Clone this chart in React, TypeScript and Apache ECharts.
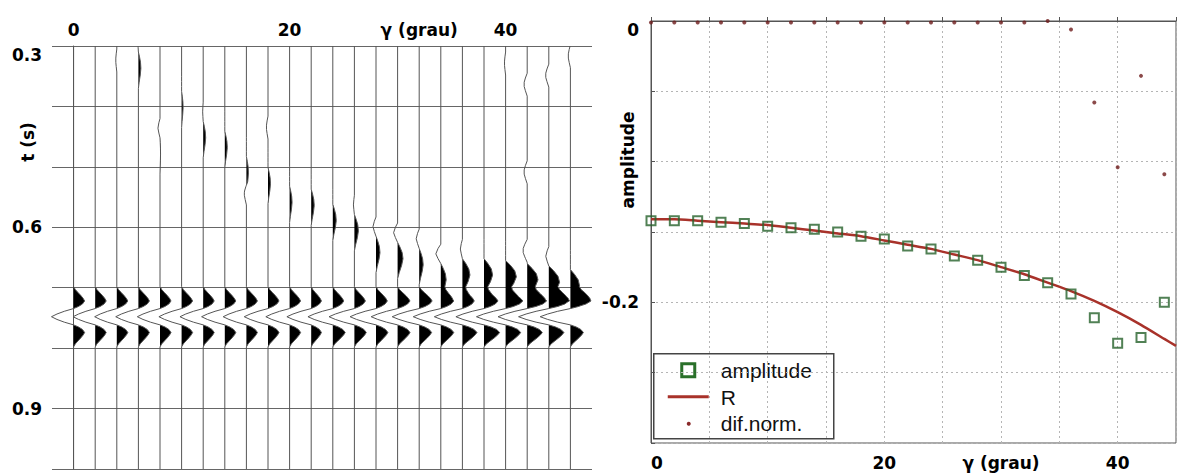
import React, { useEffect, useRef } from "react";
import * as echarts from "echarts";

// ---------------- Left panel: synthetic seismogram ----------------
const traceAngles = [0, 2, 4, 6, 8, 10, 12, 14, 16, 18, 20, 22, 24, 26, 28, 30, 32, 34, 36, 38, 40, 42, 44, 46];
const mainEventTime = 0.748;
// lobe amplitudes per trace, in degrees of deflection
const upperLobe = [1.02, 1.02, 1.02, 1.02, 1.02, 1.02, 1.02, 1.02, 1.02, 1.02, 1.02, 0.95, 1.02, 1.02, 1.05, 1.15, 1.2, 1.2, 1.1, 1.3, 1.6, 1.8, 1.85, 1.7];
const troughLobe = [2.05, 2.05, 2.05, 2.1, 2.1, 2.1, 2.15, 2.15, 2.15, 2.2, 2.2, 2.25, 2.3, 2.35, 2.4, 2.45, 2.5, 2.55, 2.6, 2.6, 2.7, 2.7, 2.8, 2.8];
const lowerLobe = [1.02, 1.02, 1.02, 1.02, 1.02, 1.02, 1.02, 1.02, 1.02, 1.02, 1.02, 0.95, 1.15, 1.1, 1.1, 1.15, 1.15, 1.2, 1.35, 1.45, 1.4, 1.4, 1.4, 1.2];
// main wavelet knots: [time offset, lobe (0 upper, 1 trough, 2 lower), normalized value]
const mainWavelet = [
  [-0.05, 0, 0], [-0.045, 0, 0.15], [-0.04, 0, 0.4], [-0.035, 0, 0.66], [-0.03, 0, 0.88], [-0.026, 0, 1], [-0.021, 0, 0.8], [-0.017, 0, 0.45], [-0.0135, 0, 0],
  [-0.009, 1, -0.42], [-0.0045, 1, -0.75], [0, 1, -1], [0.0045, 1, -0.75], [0.009, 1, -0.42], [0.0135, 1, 0],
  [0.017, 2, 0.45], [0.021, 2, 0.8], [0.026, 2, 1], [0.03, 2, 0.88], [0.035, 2, 0.66], [0.04, 2, 0.4], [0.045, 2, 0.15], [0.05, 2, 0],
];
// dipping event
const slopeTime = [0.32, 0.32, 0.32, 0.31, 0.452, 0.375, 0.425, 0.441, 0.483, 0.501, 0.532, 0.537, 0.562, 0.579, 0.615, 0.625, 0.635, 0.66, 0.652, 0.652, 0.655, 0.66, 0.664, 0.67];
const slopeLeft = [0, 0, 0, 0.05, 0.19, 0, 0.05, 0, 0, 0, 0, 0, 0, 0.09, 0.28, 0.37, 0.28, 0.46, 0.19, 0, 0, 0, 0.28, 0];
const slopeRight = [0, 0, 0, 0.23, 0.05, 0.14, 0.23, 0.23, 0.19, 0.23, 0.23, 0.28, 0.32, 0.37, 0.37, 0.5, 0.37, 0.5, 0.7, 0.8, 1.0, 1.0, 1.0, 0.85];
const slopeWavelet = [
  [-0.032, 0, 0], [-0.025, 0, 0.55], [-0.016, 0, 1], [-0.008, 0, 0.55], [0, 0, 0],
  [0.008, 1, 0.45], [0.017, 1, 0.85], [0.027, 1, 1], [0.038, 1, 0.75], [0.05, 1, 0.3], [0.06, 1, 0],
];
// weak events: [trace index, time, amplitude]
const weakEvents = [
  [2, 0.325, -0.09], [8, 0.545, -0.19], [9, 0.436, -0.14], [20, 0.33, -0.1],
  [21, 0.365, -0.28], [21, 0.51, -0.28], [21, 0.64, -0.37], [22, 0.35, -0.28], [23, 0.318, -0.19],
];
const weakWavelet = [[-0.02, 0], [-0.012, 0.6], [-0.005, 1], [0.002, 1], [0.009, 0.6], [0.018, 0]];
const leftXLabels: Record<string, string> = { "0": "0", "20": "20", "32": "γ (grau)", "40": "40" };
const leftYLabels = [0.3, 0.6, 0.9];

// ---------------- Right panel: amplitude vs angle ----------------
const ampAngles = [0, 2, 4, 6, 8, 10, 12, 14, 16, 18, 20, 22, 24, 26, 28, 30, 32, 34, 36, 38, 40, 42, 44];
const amplitude = [-0.142, -0.142, -0.142, -0.143, -0.144, -0.146, -0.147, -0.148, -0.15, -0.153, -0.155, -0.16, -0.162, -0.167, -0.17, -0.175, -0.181, -0.186, -0.194, -0.211, -0.229, -0.225, -0.2];
const rAngles = [0, 2, 4, 6, 8, 10, 12, 14, 16, 18, 20, 22, 24, 26, 28, 30, 32, 34, 36, 38, 40, 42, 44, 45];
const rValues = [-0.141, -0.141, -0.142, -0.143, -0.144, -0.145, -0.147, -0.149, -0.151, -0.153, -0.156, -0.159, -0.162, -0.166, -0.17, -0.175, -0.18, -0.186, -0.192, -0.199, -0.207, -0.216, -0.226, -0.231];
const difNorm = [-0.001, -0.001, -0.001, -0.001, -0.001, -0.001, -0.001, -0.001, -0.001, -0.001, -0.001, -0.001, -0.001, -0.001, -0.001, -0.001, -0.001, 0, -0.006, -0.058, -0.104, -0.039, -0.109];
const rightXLabels: Record<string, string> = { "0": "0", "20": "20", "30": "γ (grau)", "40": "40" };
const rightYLabels = [0, -0.2];

const LABEL_FONT = "DejaVu Sans";

function interp(knots: number[][], x: number): number {
  if (x <= knots[0][0] || x >= knots[knots.length - 1][0]) return 0;
  for (let k = 1; k < knots.length; k++) {
    if (x <= knots[k][0]) {
      const [x0, y0] = knots[k - 1];
      const [x1, y1] = knots[k];
      return y0 + ((y1 - y0) * (x - x0)) / (x1 - x0);
    }
  }
  return 0;
}

function traceSamples(i: number): number[][] {
  const lobes = [upperLobe, troughLobe, lowerLobe];
  const comps: number[][][] = [];
  comps.push(mainWavelet.map(([dt, lobe, v]) => [mainEventTime + dt, v * lobes[lobe][i]]));
  if (slopeLeft[i] || slopeRight[i]) {
    comps.push(slopeWavelet.map(([dt, side, v]) => [slopeTime[i] + dt, side === 0 ? -v * slopeLeft[i] : v * slopeRight[i]]));
  }
  weakEvents.filter((e) => e[0] === i).forEach((e) => {
    comps.push(weakWavelet.map(([dt, v]) => [e[1] + dt, v * e[2]]));
  });
  const ts = new Set<number>([0.3, 1.0]);
  comps.forEach((c) => c.forEach((k) => ts.add(Math.round(k[0] * 1e5) / 1e5)));
  const sorted = Array.from(ts).filter((t) => t >= 0.3 && t <= 1.0).sort((a, b) => a - b);
  const s = sorted.map((t) => [t, comps.reduce((acc, c) => acc + interp(c, t), 0)]);
  const out: number[][] = [];
  for (let k = 0; k < s.length; k++) {
    if (k > 0) {
      const [t0, d0] = s[k - 1];
      const [t1, d1] = s[k];
      if ((d0 > 0 && d1 < 0) || (d0 < 0 && d1 > 0)) {
        out.push([t0 + ((t1 - t0) * d0) / (d0 - d1), 0]);
      }
    }
    out.push(s[k]);
  }
  return out;
}

const near = (a: number, b: number) => Math.abs(a - b) < 1e-6;

export default function App() {
  const ref = useRef<HTMLDivElement>(null);
  useEffect(() => {
    if (!ref.current) return;
    const chart = echarts.init(ref.current, null, { renderer: "svg" });
    const labelStyle = { color: "#000", fontFamily: LABEL_FONT, fontWeight: "bold" as const, fontSize: 17 };
    const option: any = {
      animation: false,
      backgroundColor: "#fff",
      grid: [
        { left: 52, top: 46, width: 540, height: 423 },
        { left: 651, top: 21, width: 529, height: 422, show: true, borderColor: "#555", borderWidth: 1, backgroundColor: "transparent" },
      ],
      xAxis: [
        {
          type: "value", gridIndex: 0, position: "top", min: -2, max: 48, interval: 2,
          axisLine: { show: false }, axisTick: { show: false }, splitLine: { show: false },
          axisLabel: { ...labelStyle, margin: 8, formatter: (v: number) => leftXLabels[String(Math.round(v))] ?? "" },
        },
        {
          type: "value", gridIndex: 1, position: "bottom", min: 0, max: 45, interval: 5,
          axisLine: { show: true, lineStyle: { color: "#555", width: 1 } },
          axisTick: { show: true, inside: true, length: 4, lineStyle: { color: "#555" } },
          splitLine: { show: true, lineStyle: { color: "#b5b5b5", type: [2, 3], width: 1 } },
          axisLabel: { ...labelStyle, margin: 11, alignMinLabel: "left", formatter: (v: number) => rightXLabels[String(Math.round(v))] ?? "" },
        },
      ],
      yAxis: [
        {
          type: "value", gridIndex: 0, inverse: true, min: 0.3, max: 1.0, interval: 0.1,
          axisLine: { show: true, lineStyle: { color: "#555", width: 1 } }, axisTick: { show: false },
          splitLine: { show: true, lineStyle: { color: "#666", width: 1 } },
          axisLabel: {
            ...labelStyle, margin: 10, verticalAlignMinLabel: "top",
            formatter: (v: number) => (leftYLabels.some((l) => near(l, v)) ? v.toFixed(1) : ""),
          },
        },
        {
          type: "value", gridIndex: 1, min: -0.3, max: 0, interval: 0.05,
          axisLine: { show: true, lineStyle: { color: "#555", width: 1 } },
          axisTick: { show: true, inside: true, length: 4, lineStyle: { color: "#555" } },
          splitLine: { show: true, lineStyle: { color: "#b5b5b5", type: [2, 3], width: 1 } },
          axisLabel: {
            ...labelStyle, margin: 12, verticalAlignMaxLabel: "top",
            formatter: (v: number) => {
              const l = rightYLabels.find((x) => near(x, v));
              return l === undefined ? "" : l === 0 ? "0" : String(l);
            },
          },
        },
      ],
      series: [
        {
          type: "custom", xAxisIndex: 0, yAxisIndex: 0,
          data: traceAngles.map((a) => [a, mainEventTime]),
          renderItem: (params: any, api: any) => {
            const i = params.dataIndex;
            const a = traceAngles[i];
            const pts = traceSamples(i);
            const line = pts.map(([t, d]) => api.coord([a + d, t]));
            const fill = pts.map(([t, d]) => api.coord([a + Math.max(d, 0), t]));
            fill.push(api.coord([a, 1.0]));
            fill.push(api.coord([a, 0.3]));
            return {
              type: "group",
              children: [
                { type: "polygon", shape: { points: fill }, style: { fill: "#000" } },
                { type: "polyline", shape: { points: line }, style: { stroke: "#555", lineWidth: 1, fill: null } },
              ],
            };
          },
        },
        {
          type: "line", name: "R", xAxisIndex: 1, yAxisIndex: 1,
          data: rAngles.map((a, i) => [a, rValues[i]]),
          showSymbol: false, symbol: "none", smooth: 0.2,
          lineStyle: { color: "#a8322a", width: 2.5 }, z: 2,
        },
        {
          type: "scatter", name: "amplitude", xAxisIndex: 1, yAxisIndex: 1,
          data: ampAngles.map((a, i) => [a, amplitude[i]]),
          symbol: "rect", symbolSize: 9,
          itemStyle: { color: "rgba(255,255,255,0)", borderColor: "#25622a", borderWidth: 2 }, z: 3,
        },
        {
          type: "scatter", name: "dif.norm.", xAxisIndex: 1, yAxisIndex: 1,
          data: ampAngles.map((a, i) => [a, difNorm[i]]),
          symbol: "circle", symbolSize: 4, itemStyle: { color: "#6e1c1c" }, z: 4,
        },
      ],
      graphic: [
        {
          type: "text", x: 28, y: 142, rotation: Math.PI / 2,
          style: { text: "t (s)", fill: "#000", font: `bold 17px "${LABEL_FONT}"`, align: "center", verticalAlign: "middle" },
        },
        {
          type: "text", x: 628, y: 160, rotation: Math.PI / 2,
          style: { text: "amplitude", fill: "#000", font: `bold 17px "${LABEL_FONT}"`, align: "center", verticalAlign: "middle" },
        },
        {
          type: "group", left: 653, top: 353, z: 100,
          children: [
            { type: "rect", shape: { x: 0, y: 0, width: 180, height: 85 }, style: { fill: "#fff", stroke: "#444", lineWidth: 1.5 } },
            { type: "rect", shape: { x: 28, y: 10, width: 13, height: 13 }, style: { fill: "none", stroke: "#2a702a", lineWidth: 3 } },
            { type: "line", shape: { x1: 14, y1: 43, x2: 55, y2: 43 }, style: { stroke: "#a8322a", lineWidth: 3 } },
            { type: "circle", shape: { cx: 35, cy: 70, r: 2 }, style: { fill: "#8a2a2a" } },
            { type: "text", x: 67, y: 17, style: { text: "amplitude", fill: "#111", font: '21px "Liberation Sans"', verticalAlign: "middle" } },
            { type: "text", x: 67, y: 44, style: { text: "R", fill: "#111", font: '21px "Liberation Sans"', verticalAlign: "middle" } },
            { type: "text", x: 67, y: 70, style: { text: "dif.norm.", fill: "#111", font: '21px "Liberation Sans"', verticalAlign: "middle" } },
          ],
        },
      ],
    };
    chart.setOption(option);
    return () => chart.dispose();
  }, []);
  return <div ref={ref} style={{ position: "fixed", left: 0, top: 0, width: 1179, height: 473, background: "#fff" }} />;
}
